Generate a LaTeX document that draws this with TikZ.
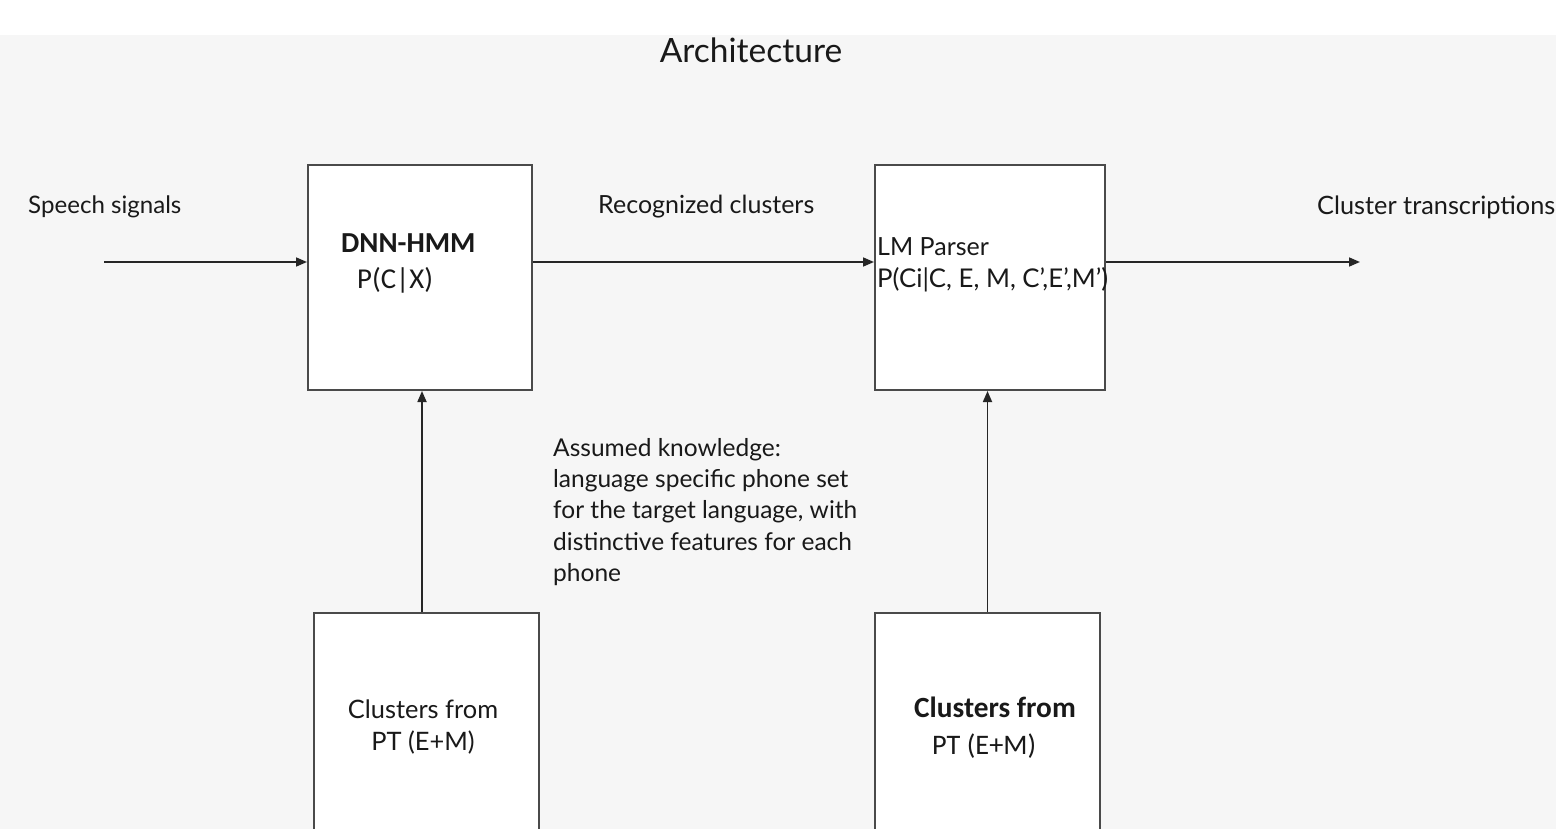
\documentclass[tikz,border=0pt]{standalone}
\usepackage{fontspec}
\setmainfont{Lato}
\newfontfamily\calfont{Carlito}
\usetikzlibrary{arrows.meta,calc}
\definecolor{bggray}{HTML}{F6F6F6}
\definecolor{boxline}{HTML}{4A4A4A}
\tikzset{
  blk/.style={draw=boxline, line width=2pt, fill=white, inner sep=0pt},
  arr/.style={draw=black!85, line width=1.7pt, -{Triangle[length=11pt,width=9pt]}},
  lbl/.style={inner sep=0pt, font=\fontsize{25}{30}\selectfont, text=black!90},
}
\begin{document}
\begin{tikzpicture}[x=1pt,y=-1pt]
\useasboundingbox (0,0) rectangle (1556,829);
\clip (0,0) rectangle (1556,829);
\fill[white] (0,0) rectangle (1556,35);
\fill[bggray] (0,35) rectangle (1556,829);

\node[lbl, font=\fontsize{33.5}{40}\selectfont] (title) at (751,50) {Architecture};

\node[blk, minimum width=224pt, minimum height=225pt] (dnn) at (420,277.5) {};
\node[blk, minimum width=230pt, minimum height=225pt] (lm) at (990,277.5) {};
\node[blk, minimum width=225pt, minimum height=225pt] (cl1) at (426.5,725.5) {};
\node[blk, minimum width=225pt, minimum height=225pt] (cl2) at (987.5,725.5) {};

% texts inside boxes
\node[lbl, anchor=west, font=\calfont\bfseries\fontsize{29}{34}\selectfont] (dnnt) at (341,243) {DNN-HMM};
\node[lbl, anchor=west, font=\calfont\fontsize{28.8}{34}\selectfont] (dnnp) at (357,280) {P(C|X)};
\node[lbl, anchor=west] (lmt) at (877,247) {LM Parser};
\node[lbl, anchor=west, font=\fontsize{25.8}{30}\selectfont] (lmp) at (877,280) {P(Ci|C, E, M, C’,E’,M’)};
\node[lbl, align=center, font=\fontsize{25.4}{32}\selectfont] (cl1t) at (423,727) {Clusters from\\PT (E+M)};
\node[lbl, anchor=west, font=\calfont\bfseries\fontsize{29.3}{34}\selectfont] (cl2a) at (914,707) {Clusters from};
\node[lbl, anchor=west, font=\calfont\fontsize{28.3}{34}\selectfont] (cl2b) at (932,746) {PT (E+M)};

% outside labels
\node[lbl, anchor=west, font=\fontsize{24.1}{30}\selectfont] (speech) at (28,207) {Speech signals};
\node[lbl, anchor=west] (recog) at (598,207) {Recognized clusters};
\node[lbl, anchor=west, font=\fontsize{25.3}{30}\selectfont] (trans) at (1317,207) {Cluster transcriptions};
\node[lbl, anchor=north west, align=left, font=\fontsize{24.5}{31.3}\selectfont] (know) at (553,438)
  {Assumed knowledge:\\language specific phone set\\for the target language, with\\distinctive features for each\\phone};

% connectors
\coordinate (sin) at (104,262);
\coordinate (sout) at (1360,262);
\draw[arr] (sin) -- (sin -| dnn.west);
\draw[arr] (dnn.east |- sin) -- (lm.west |- sin);
\draw[arr] (lm.east |- sin) -- (sout);
\draw[arr] ($(dnn.south |- cl1.north)+(2,0)$) -- ($(dnn.south)+(2,0)$);
\draw[arr] (cl2.north) -- (cl2.north |- lm.south);
\end{tikzpicture}
\end{document}
